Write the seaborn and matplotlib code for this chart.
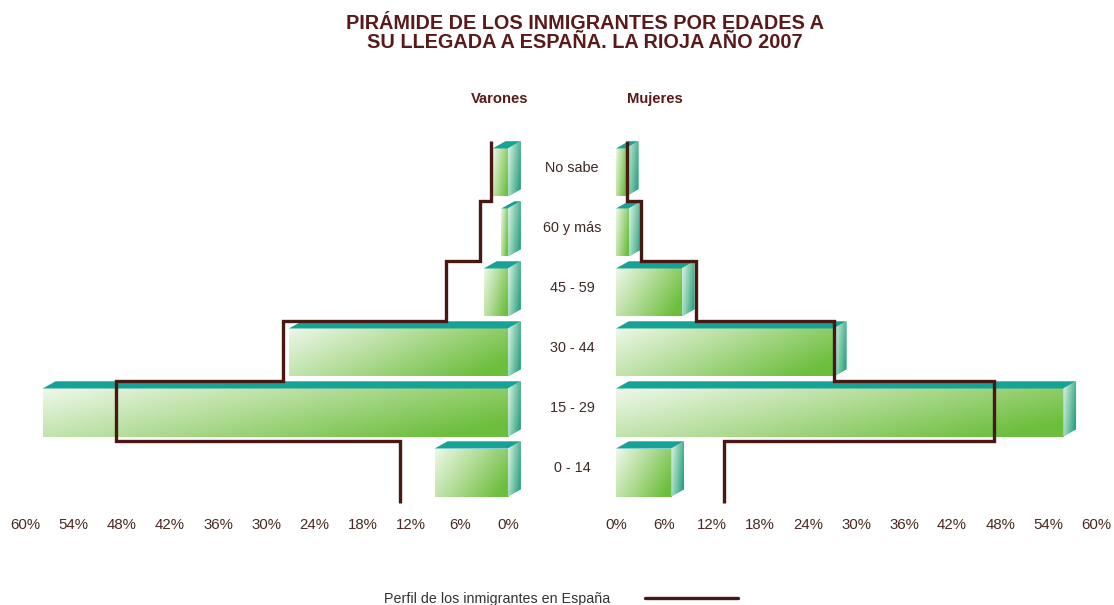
import numpy as np
import pandas as pd
import matplotlib
matplotlib.use('Agg')
import matplotlib.pyplot as plt
import matplotlib.transforms as mtransforms
import seaborn as sns
from matplotlib.patches import Polygon
from matplotlib.colors import LinearSegmentedColormap
from matplotlib.lines import Line2D

# values (% of each sex)
age_groups = ['No sabe', '60 y más', '45 - 59', '30 - 44', '15 - 29', '0 - 14']
varones = [1.9, 0.8, 3.0, 27.2, 57.8, 9.1]
mujeres = [1.2, 1.6, 8.2, 27.2, 55.9, 6.9]
perfil_varones = [2.1, 3.5, 7.7, 28.0, 48.7, 13.4]
perfil_mujeres = [1.4, 3.1, 10.0, 27.2, 47.3, 13.5]
x_ticks = [0, 6, 12, 18, 24, 30, 36, 42, 48, 54, 60]

title = 'PIRÁMIDE DE LOS INMIGRANTES POR EDADES A\nSU LLEGADA A ESPAÑA. LA RIOJA AÑO 2007'
legend_label = 'Perfil de los inmigrantes en España'

df = pd.DataFrame({'edad': age_groups, 'Varones': varones, 'Mujeres': mujeres})

sns.set_style('white')
plt.rcParams['font.family'] = ['Liberation Sans', 'DejaVu Sans']

line_color = '#4a1812'
text_color = '#5a1a1a'
tick_color = '#4a2a22'
top_color = '#17a297'
front_cmap = LinearSegmentedColormap.from_list('front', ['#eef8ea', '#b0db94', '#6cbe3c'])
side_cmap = LinearSegmentedColormap.from_list('side', ['#dcf3e8', '#86cdaf', '#2ea283'])

fig = plt.figure(figsize=(11.14, 6.05), dpi=100)
ax_l = fig.add_axes([0.0224, 0.1537, 0.448, 0.6397])
ax_r = fig.add_axes([0.5494, 0.1537, 0.4417, 0.6397])

DX = 1.6    # depth of the 3d effect along x (in %)
DY = 0.12   # depth of the 3d effect along y (in rows)

xn = np.linspace(0, 1, 200)
yn = np.linspace(0, 1, 40)
front_img = front_cmap(np.clip(0.75 * xn[None, :] + 0.35 * yn[:, None], 0, 1))
xs = np.linspace(0, 1, 20)
side_img = side_cmap(np.clip(0.8 * xs[None, :] + 0.3 * yn[:, None], 0, 1))


def draw_half(ax, col, profile, sgn, xlim):
    sns.barplot(data=df, x=col, y='edad', order=age_groups, orient='h',
                color='#8fd06a', width=0.8, linewidth=0, ax=ax)
    bars = list(ax.patches)
    edges = []
    for p in bars:
        x0, w, y0, h = p.get_x(), p.get_width(), p.get_y(), p.get_height()
        lo, hi = min(x0, x0 + w), max(x0, x0 + w)
        sl, sr = (hi, lo) if sgn < 0 else (lo, hi)
        dx = DX * sgn
        # front face with gradient
        im = ax.imshow(front_img, extent=(sl, sr, y0 + h, y0), origin='upper',
                       aspect='auto', interpolation='bilinear', zorder=2)
        im.set_clip_path(p)
        # top face
        ax.add_patch(Polygon([(sl, y0), (sr, y0), (sr + dx, y0 - DY), (sl + dx, y0 - DY)],
                             closed=True, facecolor=top_color, edgecolor='none', zorder=3))
        # side face
        side = Polygon([(sr, y0), (sr + dx, y0 - DY), (sr + dx, y0 + h - DY), (sr, y0 + h)],
                       closed=True, facecolor='#5fb89a', edgecolor='none', zorder=3)
        ax.add_patch(side)
        sim = ax.imshow(side_img, extent=(sr, sr + dx, y0 + h, y0 - DY), origin='upper',
                        aspect='auto', interpolation='bilinear', zorder=4)
        sim.set_clip_path(side)
        edges.append(y0 - DY)
    last = bars[-1]
    edges.append(last.get_y() + last.get_height() + 0.1)
    ax.stairs(profile, edges, orientation='horizontal', baseline=None,
              color=line_color, linewidth=2.4, zorder=6)

    ax.set_xlim(*xlim)
    ax.set_ylim(5.658, -0.79)
    ax.set_xticks(x_ticks)
    ax.set_xticklabels([f'{t}%' for t in x_ticks])
    ax.tick_params(axis='x', length=0, pad=4, labelsize=10.8, labelcolor=tick_color)
    ax.set_yticks([])
    ax.set_xlabel('')
    ax.set_ylabel('')
    sns.despine(ax=ax, left=True, bottom=True)


draw_half(ax_l, 'Varones', perfil_varones, -1, (60, -2.0))
draw_half(ax_r, 'Mujeres', perfil_mujeres, 1, (-0.5, 61))

# age labels in the gap between the two halves
trans = mtransforms.blended_transform_factory(fig.transFigure, ax_r.transData)
for i, lab in enumerate(age_groups):
    ax_r.text(572 / 1114, i - 0.08, lab, transform=trans, ha='center', va='center',
              fontsize=10.4, color='#3f2a26', clip_on=False)

fig.text(585 / 1114, 1 - 33 / 605, title, ha='center', va='center', fontsize=14.3,
         fontweight='bold', color=text_color, linespacing=1.0)
fig.text(500 / 1114, 1 - 99 / 605, 'Varones', ha='center', va='center', fontsize=10.6,
         fontweight='bold', color=text_color)
fig.text(655 / 1114, 1 - 99 / 605, 'Mujeres', ha='center', va='center', fontsize=10.6,
         fontweight='bold', color=text_color)

fig.legend(handles=[Line2D([], [], color=line_color, linewidth=2.4)], labels=[legend_label],
           loc='center', bbox_to_anchor=(561 / 1114, 1 - 599 / 605), frameon=False,
           markerfirst=False, handlelength=6.5, handletextpad=2.4, fontsize=10.3,
           labelcolor='#333333')

fig.savefig('out.png', dpi=100, facecolor='white')
